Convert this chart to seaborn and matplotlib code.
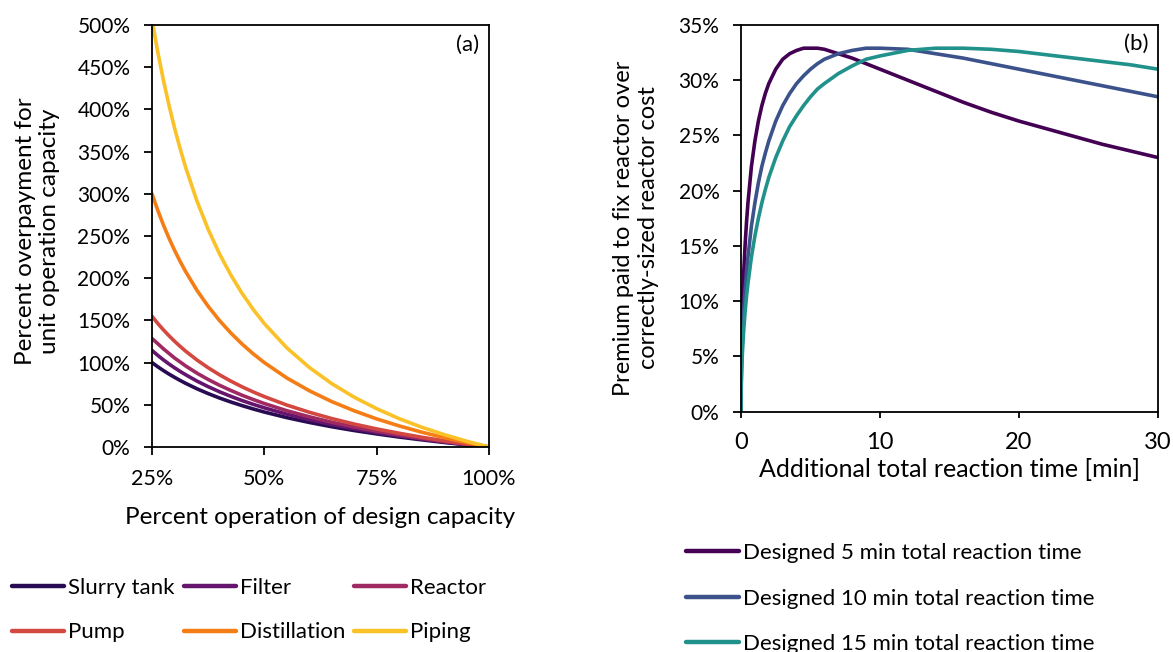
import numpy as np
import pandas as pd
import matplotlib
matplotlib.use("Agg")
import matplotlib.pyplot as plt
import seaborn as sns
from matplotlib.ticker import FuncFormatter
from matplotlib.lines import Line2D

# ---------------- Data ----------------
# Panel (a): percent operation of design capacity [%]
capacity = [25, 26.25, 27.5, 28.75, 30, 31.25, 32.5, 35, 37.5, 40, 42.5, 45, 47.5, 50,
            55, 60, 65, 70, 75, 80, 85, 90, 95, 100]
slurry_tank = [100.0, 95.2, 90.7, 86.5, 82.6, 78.9, 75.4, 69.0, 63.3, 58.1, 53.4, 49.1, 45.1, 41.4,
               34.8, 29.1, 24.0, 19.5, 15.5, 11.8, 8.5, 5.4, 2.6, 0]
filter_ = [114.4, 108.7, 103.4, 98.5, 93.9, 89.6, 85.6, 78.1, 71.5, 65.5, 60.1, 55.1, 50.6, 46.4,
           38.9, 32.4, 26.7, 21.7, 17.1, 13.1, 9.4, 6.0, 2.9, 0]
reactor = [128.5, 122.6, 116.5, 111.0, 105.5, 100.8, 96.0, 87.5, 80.0, 73.2, 67.1, 61.4, 56.3, 51.5,
           43.0, 35.8, 29.4, 23.8, 18.8, 14.3, 10.2, 6.5, 3.1, 0]
pump = [154.9, 146.6, 139.0, 132.0, 125.4, 119.3, 113.5, 103.1, 93.9, 85.6, 78.2, 71.4, 65.3, 59.7,
        49.7, 41.2, 33.7, 27.2, 21.4, 16.3, 11.6, 7.4, 3.5, 0]
distillation = [300.0, 281.0, 263.6, 247.8, 233.3, 220.0, 207.7, 185.7, 166.7, 150.0, 135.3, 122.2,
                110.5, 100.0, 81.8, 66.7, 53.8, 42.9, 33.3, 25.0, 17.6, 11.1, 5.3, 0]
piping = [506.3, 469.0, 435.7, 405.6, 378.4, 353.7, 331.1, 291.5, 257.9, 229.1, 204.2, 182.4, 163.2,
          146.2, 117.5, 94.3, 75.1, 59.0, 45.4, 33.6, 23.5, 14.7, 6.9, 0]
units = ["Slurry tank", "Filter", "Reactor", "Pump", "Distillation", "Piping"]
xticks_a = [25, 50, 75, 100]

# Panel (b): additional total reaction time [min]
add_time = [0, 0.02, 0.05, 0.1, 0.2, 0.3, 0.4, 0.5, 0.75, 1, 1.25, 1.5, 1.75, 2, 2.5, 3, 3.5, 4,
            4.5, 5, 5.5, 6, 7, 8, 9, 10, 12, 14, 16, 18, 20, 22, 24, 26, 28, 30]
design_5 = [0, 4.1, 6.5, 9.1, 12.7, 15.2, 17.2, 18.9, 22.2, 24.5, 26.3, 27.7, 28.8, 29.7, 31.0,
            31.9, 32.4, 32.7, 32.9, 32.9, 32.9, 32.8, 32.4, 32.0, 31.5, 31.0, 30.0, 29.0, 28.0,
            27.1, 26.3, 25.6, 24.9, 24.2, 23.6, 23.0]
design_10 = [0, 2.9, 4.6, 6.5, 9.1, 11.1, 12.7, 14.0, 16.8, 18.9, 20.7, 22.2, 23.4, 24.5, 26.3,
             27.7, 28.8, 29.7, 30.4, 31.0, 31.5, 31.9, 32.4, 32.7, 32.9, 32.9, 32.8, 32.4, 32.0,
             31.5, 31.0, 30.5, 30.0, 29.5, 29.0, 28.5]
design_15 = [0, 2.4, 3.8, 5.3, 7.5, 9.1, 10.5, 11.6, 14.0, 15.9, 17.5, 18.9, 20.1, 21.2, 23.0,
             24.5, 25.8, 26.8, 27.7, 28.5, 29.2, 29.7, 30.6, 31.3, 31.9, 32.2, 32.7, 32.9, 32.9,
             32.8, 32.6, 32.3, 32.0, 31.7, 31.4, 31.0]
designs = ["Designed 5 min total reaction time",
           "Designed 10 min total reaction time",
           "Designed 15 min total reaction time"]
xticks_b = [0, 10, 20, 30]

# ---------------- Build tables ----------------
series_a = [slurry_tank, filter_, reactor, pump, distillation, piping]
df_a = pd.DataFrame({
    "capacity": np.tile(capacity, len(units)),
    "overpay": np.concatenate(series_a),
    "unit": np.repeat(units, len(capacity)),
})
series_b = [design_5, design_10, design_15]
df_b = pd.DataFrame({
    "time": np.tile(add_time, len(designs)),
    "premium": np.concatenate(series_b),
    "design": np.repeat(designs, len(add_time)),
})

# ---------------- Style ----------------
sns.set_theme(style="ticks")
plt.rcParams["font.family"] = ["Lato", "DejaVu Sans"]
plt.rcParams["axes.edgecolor"] = "black"
plt.rcParams["axes.linewidth"] = 1.3
plt.rcParams["xtick.color"] = "black"
plt.rcParams["ytick.color"] = "black"
plt.rcParams["text.color"] = "black"
plt.rcParams["axes.labelcolor"] = "black"

W, H = 1173, 652
fig = plt.figure(figsize=(W / 100, H / 100), dpi=100)
ax_a = fig.add_axes([152 / W, 1 - 447 / H, (489 - 152) / W, (447 - 25) / H])
ax_b = fig.add_axes([741 / W, 1 - 411.6 / H, (1158 - 741) / W, (411.6 - 25) / H])

pal_a = sns.color_palette("inferno", 6)
pal_b = [plt.cm.viridis(0.0), plt.cm.viridis(0.25), plt.cm.viridis(0.5)]

sns.lineplot(data=df_a, x="capacity", y="overpay", hue="unit", hue_order=units,
             palette=pal_a, linewidth=2.6, ax=ax_a, legend=False)
sns.lineplot(data=df_b, x="time", y="premium", hue="design", hue_order=designs,
             palette=pal_b, linewidth=2.6, ax=ax_b, legend=False)

pct = FuncFormatter(lambda v, p: f"{v:.0f}%")

# Panel (a)
ax_a.set_xlim(25, 100)
ax_a.set_ylim(0, 500)
ax_a.set_xticks(xticks_a)
ax_a.set_yticks(np.arange(0, 501, 50))
ax_a.xaxis.set_major_formatter(pct)
ax_a.yaxis.set_major_formatter(pct)
ax_a.tick_params(axis="y", labelsize=15, length=5.5, width=1.3, direction="out", pad=10)
ax_a.tick_params(axis="x", labelsize=15.5, length=5.5, width=1.3, direction="out", pad=10)
ax_a.set_xlabel("Percent operation of design capacity", fontsize=17.5, va="center")
ax_a.xaxis.set_label_coords(0.5, -0.168)
ax_a.set_ylabel("Percent overpayment for\nunit operation capacity", fontsize=17.5, va="center")
ax_a.yaxis.set_label_coords(-0.340, 0.512)
ax_a.text(0.935, 0.952, "(a)", transform=ax_a.transAxes, ha="center", va="center", fontsize=16)

# Panel (b)
ax_b.set_xlim(0, 30)
ax_b.set_ylim(0, 35)
ax_b.set_xticks(xticks_b)
ax_b.set_yticks(np.arange(0, 36, 5))
ax_b.yaxis.set_major_formatter(pct)
ax_b.tick_params(axis="y", labelsize=15, length=5.5, width=1.3, direction="out", pad=10)
ax_b.tick_params(axis="x", labelsize=17, length=4.5, width=1.3, direction="out", pad=10)
ax_b.set_xlabel("Additional total reaction time [min]", fontsize=18, va="center")
ax_b.xaxis.set_label_coords(0.5, -0.151)
ax_b.set_ylabel("Premium paid to fix reactor over\ncorrectly-sized reactor cost", fontsize=17, va="center")
ax_b.yaxis.set_label_coords(-0.252, 0.475)
ax_b.text(0.947, 0.952, "(b)", transform=ax_b.transAxes, ha="center", va="center", fontsize=16)

for ax in (ax_a, ax_b):
    for s in ax.spines.values():
        s.set_visible(True)
        s.set_color("black")

# Legends
h_a = {u: Line2D([], [], color=c, lw=3.2, solid_capstyle="round") for u, c in zip(units, pal_a)}
order = ["Slurry tank", "Pump", "Filter", "Distillation", "Reactor", "Piping"]
fig.legend([h_a[u] for u in order], order, loc="upper left",
           bbox_to_anchor=(12 / W, 1 - 578 / H), ncol=3, frameon=False,
           fontsize=16, handlelength=2.35, handletextpad=0.18, columnspacing=0.4,
           labelspacing=1.1, borderpad=0, borderaxespad=0)

h_b = [Line2D([], [], color=c, lw=3.2, solid_capstyle="round") for c in pal_b]
fig.legend(h_b, designs, loc="upper left", bbox_to_anchor=(686 / W, 1 - 543 / H),
           ncol=1, frameon=False, fontsize=16, handlelength=2.4, handletextpad=0.15,
           labelspacing=1.15, borderpad=0, borderaxespad=0)

fig.savefig("out.png", dpi=100)
